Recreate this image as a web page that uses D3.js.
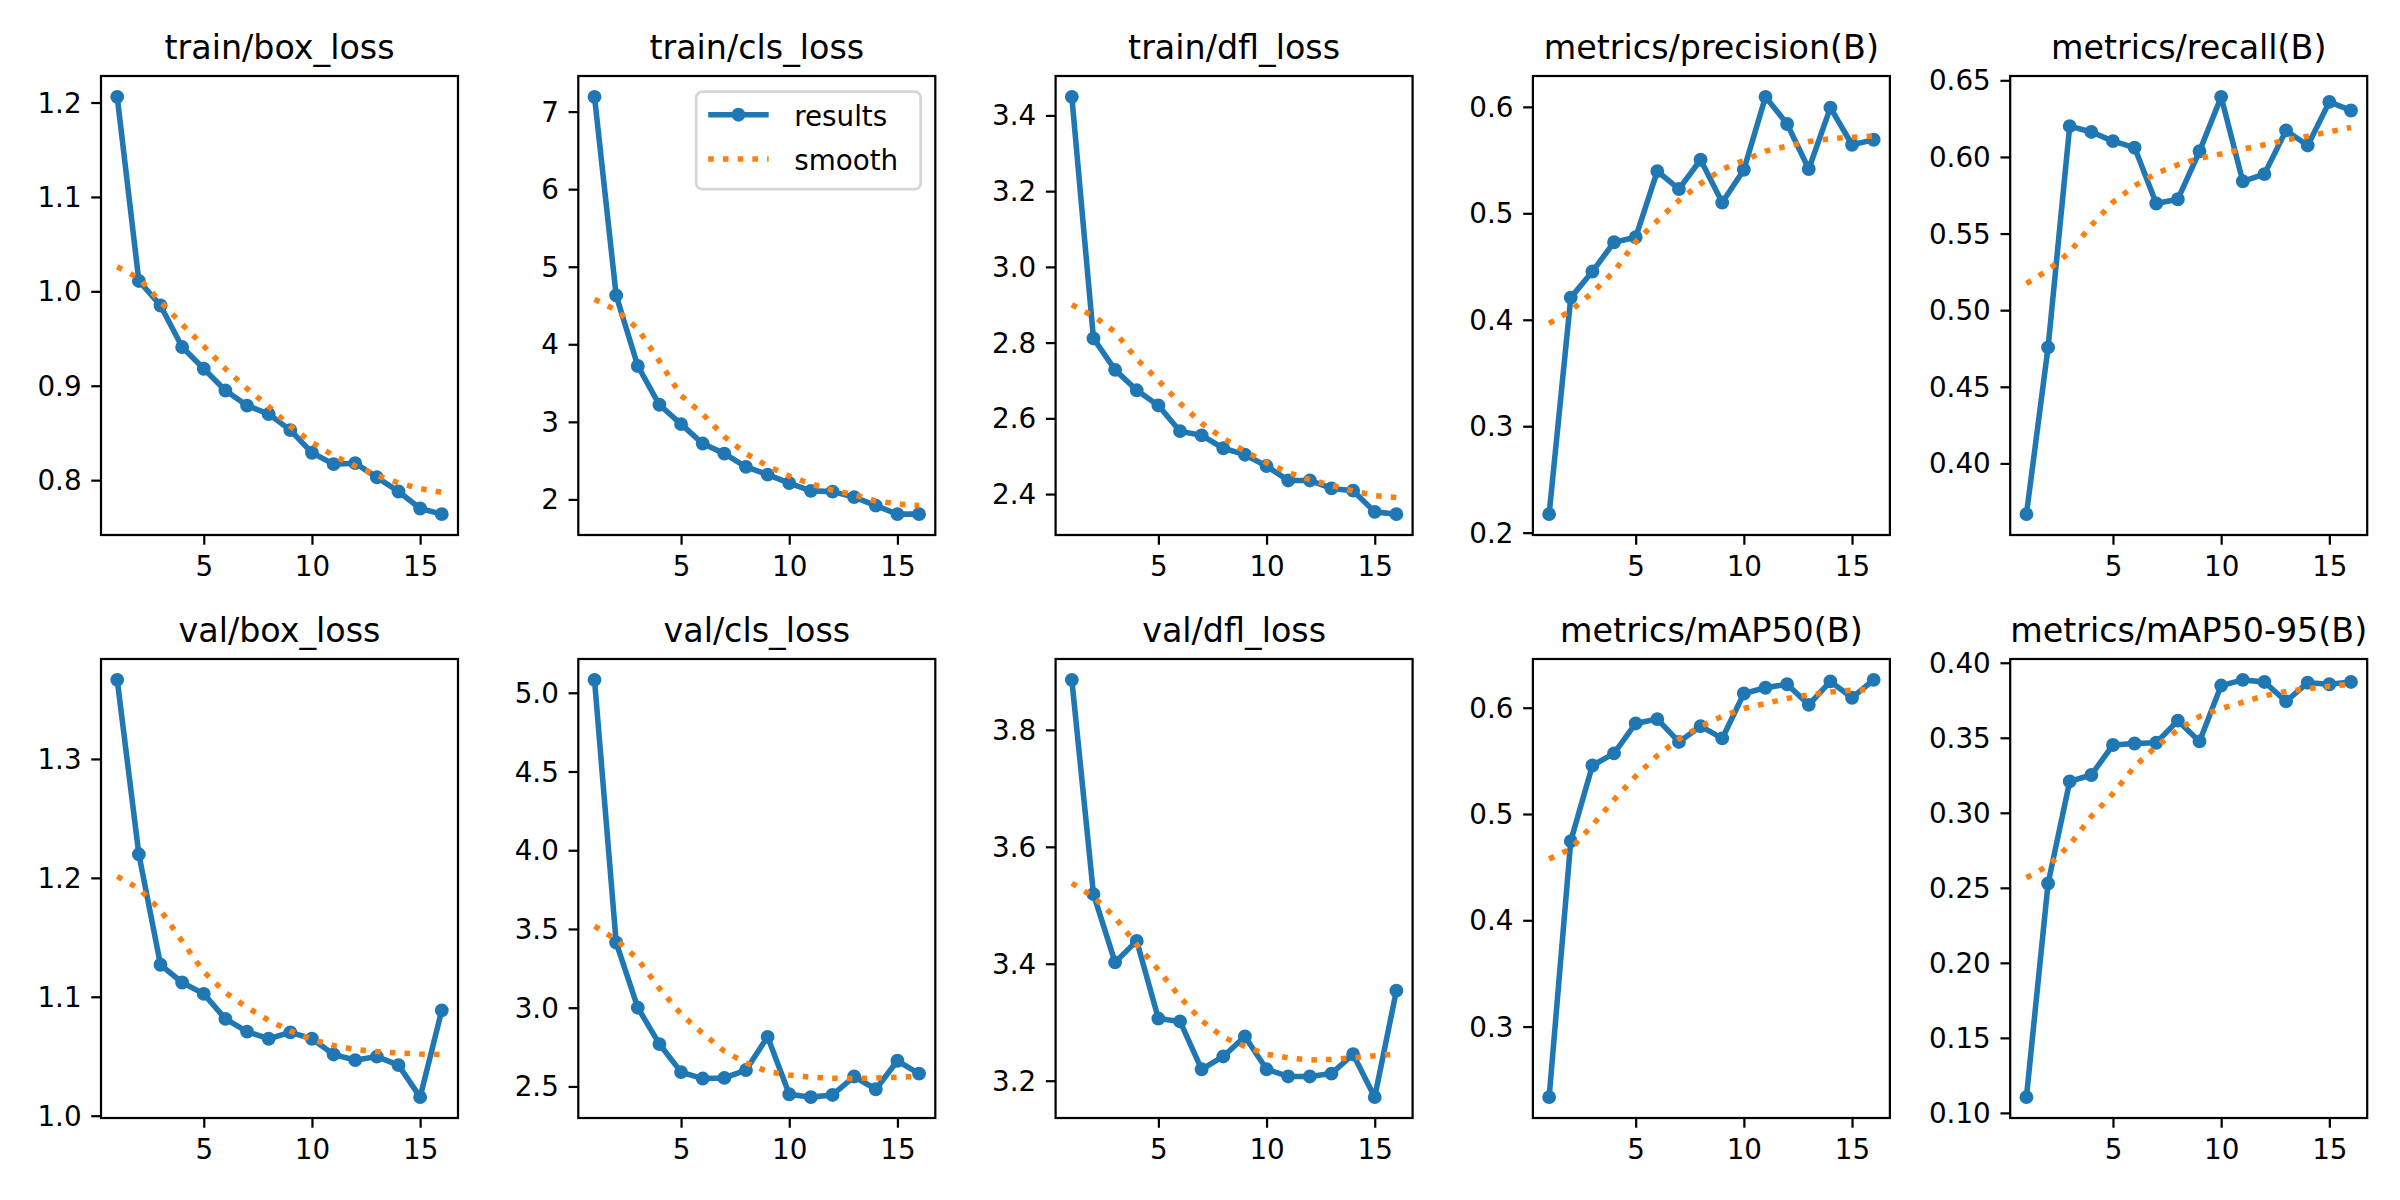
<!DOCTYPE html>
<html><head><meta charset="utf-8">
<script src="https://cdn.jsdelivr.net/npm/d3@7"></script>
<style>body{margin:0;background:#fff}svg{display:block}</style>
</head><body><svg id="c" width="2400" height="1200"></svg>
<script>
const epochs = [1,2,3,4,5,6,7,8,9,10,11,12,13,14,15,16];
const xTickLabels = ["5","10","15"];
const titles = ["train/box_loss","train/cls_loss","train/dfl_loss","metrics/precision(B)","metrics/recall(B)",
                "val/box_loss","val/cls_loss","val/dfl_loss","metrics/mAP50(B)","metrics/mAP50-95(B)"];
const seriesLabels = ["results","smooth"];

const trainBoxLoss = [1.206,1.011,0.985,0.941,0.918,0.895,0.879,0.870,0.853,0.829,0.817,0.818,0.803,0.788,0.770,0.764];
const trainBoxSmooth = [1.026,1.014,0.989,0.965,0.942,0.918,0.897,0.878,0.857,0.840,0.826,0.815,0.805,0.797,0.791,0.787];
const trainBoxTicks = ["0.8","0.9","1.0","1.1","1.2"];

const trainClsLoss = [7.19,4.63,3.72,3.22,2.97,2.72,2.59,2.42,2.32,2.21,2.11,2.10,2.03,1.92,1.81,1.81];
const trainClsSmooth = [4.58,4.44,4.20,3.78,3.34,3.10,2.81,2.59,2.43,2.30,2.20,2.12,2.06,1.98,1.94,1.92];
const trainClsTicks = ["2","3","4","5","6","7"];

const trainDflLoss = [3.449,2.811,2.728,2.674,2.634,2.566,2.555,2.521,2.504,2.474,2.436,2.436,2.415,2.409,2.353,2.347];
const trainDflSmooth = [2.900,2.870,2.828,2.757,2.700,2.640,2.587,2.547,2.513,2.483,2.457,2.438,2.423,2.408,2.396,2.391];
const trainDflTicks = ["2.4","2.6","2.8","3.0","3.2","3.4"];

const precision = [0.2174,0.4208,0.4453,0.4728,0.4775,0.5396,0.5228,0.5503,0.5101,0.5409,0.6094,0.5839,0.5416,0.5993,0.5644,0.5691];
const precisionSmooth = [0.3966,0.4084,0.4255,0.4453,0.4732,0.4930,0.5121,0.5279,0.5413,0.5497,0.5584,0.5631,0.5674,0.5701,0.5715,0.5725];
const precisionTicks = ["0.2","0.3","0.4","0.5","0.6"];

const recall = [0.3669,0.4757,0.6201,0.6163,0.6103,0.6061,0.5696,0.5724,0.6037,0.6392,0.5841,0.5888,0.6173,0.6075,0.6359,0.6303];
const recallSmooth = [0.5173,0.5262,0.5379,0.5554,0.5705,0.5811,0.5893,0.5949,0.5991,0.6019,0.6051,0.6079,0.6110,0.6135,0.6164,0.6192];
const recallTicks = ["0.40","0.45","0.50","0.55","0.60","0.65"];

const valBoxLoss = [1.3665,1.2198,1.1269,1.1120,1.1024,1.0814,1.0707,1.0647,1.0701,1.0647,1.0515,1.0467,1.0497,1.0425,1.0156,1.0886];
const valBoxSmooth = [1.2012,1.1910,1.1728,1.1467,1.1210,1.1036,1.0910,1.0802,1.0713,1.0641,1.0590,1.0557,1.0539,1.0527,1.0518,1.0515];
const valBoxTicks = ["1.0","1.1","1.2","1.3"];

const valClsLoss = [5.082,3.414,3.000,2.769,2.591,2.550,2.554,2.604,2.815,2.450,2.432,2.446,2.563,2.482,2.663,2.581];
const valClsSmooth = [3.518,3.432,3.308,3.122,2.959,2.837,2.724,2.649,2.595,2.572,2.559,2.552,2.550,2.554,2.559,2.563];
const valClsTicks = ["2.5","3.0","3.5","4.0","4.5","5.0"];

const valDflLoss = [3.8855,3.519,3.4024,3.4391,3.3063,3.3014,3.2195,3.2415,3.2757,3.2195,3.2073,3.2073,3.2122,3.2452,3.1719,3.3540];
const valDflSmooth = [3.5377,3.5145,3.4790,3.4326,3.3898,3.3429,3.3026,3.2745,3.2586,3.2452,3.2391,3.2354,3.2366,3.2391,3.2428,3.2458];
const valDflTicks = ["3.2","3.4","3.6","3.8"];

const mAP50 = [0.2336,0.4745,0.5456,0.5570,0.5852,0.5893,0.5678,0.5826,0.5711,0.6134,0.6188,0.6221,0.6027,0.6248,0.6094,0.6262];
const mAP50Smooth = [0.4577,0.4671,0.4893,0.5134,0.5356,0.5550,0.5705,0.5826,0.5919,0.5993,0.6040,0.6087,0.6121,0.6148,0.6164,0.6174];
const mAP50Ticks = ["0.3","0.4","0.5","0.6"];

const mAP5095 = [0.1105,0.2529,0.3209,0.3252,0.3452,0.3462,0.3467,0.3614,0.3476,0.3848,0.3886,0.3872,0.3743,0.3867,0.3857,0.3872];
const mAP5095Smooth = [0.2567,0.2647,0.2786,0.2976,0.3128,0.3309,0.3442,0.3552,0.3642,0.3694,0.3737,0.3780,0.3808,0.3827,0.3844,0.3856];
const mAP5095Ticks = ["0.10","0.15","0.20","0.25","0.30","0.35","0.40"];

const panels = [
  [trainBoxLoss, trainBoxSmooth, trainBoxTicks],
  [trainClsLoss, trainClsSmooth, trainClsTicks],
  [trainDflLoss, trainDflSmooth, trainDflTicks],
  [precision, precisionSmooth, precisionTicks],
  [recall, recallSmooth, recallTicks],
  [valBoxLoss, valBoxSmooth, valBoxTicks],
  [valClsLoss, valClsSmooth, valClsTicks],
  [valDflLoss, valDflSmooth, valDflTicks],
  [mAP50, mAP50Smooth, mAP50Ticks],
  [mAP5095, mAP5095Smooth, mAP5095Ticks]
].map((p, i) => ({title: titles[i], results: p[0], smooth: p[1], ticks: p[2]}));

// layout (px)
const PT = 200/72;
const C0 = "#1f77b4", C1 = "#ff7f0e";
const left0 = 101, colStep = 477.3, axW = 357, top0 = 76, rowStep = 583, axH = 459;
const tickFs = 10*PT, titleFs = 12*PT;
const tickLen = 3.5*PT, tickPad = 3.5*PT;
const font = "'DejaVu Sans', sans-serif";

const svg = d3.select("#c");
svg.append("rect").attr("width",2400).attr("height",1200).attr("fill","#fff");

panels.forEach((p, i) => {
  const col = i % 5, row = Math.floor(i / 5);
  const g = svg.append("g").attr("transform", `translate(${left0 + col*colStep},${top0 + row*rowStep})`);

  const xe = d3.extent(epochs), xr = xe[1]-xe[0];
  const x = d3.scaleLinear().domain([xe[0]-0.05*xr, xe[1]+0.05*xr]).range([0, axW]);
  const ye = d3.extent(p.results.concat(p.smooth)), yr = ye[1]-ye[0];
  const y = d3.scaleLinear().domain([ye[0]-0.05*yr, ye[1]+0.05*yr]).range([axH, 0]);

  const line = d3.line().x((d, k) => x(epochs[k])).y(d => y(d));

  g.append("path").attr("d", line(p.results)).attr("fill","none").attr("stroke",C0)
    .attr("stroke-width",2*PT).attr("stroke-linejoin","round").attr("stroke-linecap","square");
  g.selectAll("circle.m").data(p.results).join("circle").attr("class","m")
    .attr("cx",(d,k)=>x(epochs[k])).attr("cy",d=>y(d)).attr("r",2*PT)
    .attr("fill",C0).attr("stroke",C0).attr("stroke-width",1*PT);
  g.append("path").attr("d", line(p.smooth)).attr("fill","none").attr("stroke",C1)
    .attr("stroke-width",2*PT).attr("stroke-dasharray",`${2*PT} ${3.3*PT}`).attr("stroke-linecap","butt");

  // axes frame
  g.append("rect").attr("width",axW).attr("height",axH).attr("fill","none")
    .attr("stroke","#000").attr("stroke-width",0.8*PT);

  // x ticks
  const xt = xTickLabels.map(Number);
  const xa = d3.axisBottom(x).tickValues(xt).tickFormat((d,k)=>xTickLabels[k]).tickSize(tickLen).tickPadding(tickPad);
  const gx = g.append("g").attr("transform",`translate(0,${axH})`).call(xa);
  gx.select(".domain").remove();
  gx.selectAll("line").attr("stroke","#000").attr("stroke-width",0.8*PT);
  gx.selectAll("text").attr("font-family",font).attr("font-size",tickFs).attr("fill","#000")
    .attr("dy",null).attr("y", tickLen + tickPad + 0.76*tickFs);

  // y ticks
  const yt = p.ticks.map(Number);
  const ya = d3.axisLeft(y).tickValues(yt).tickFormat((d,k)=>p.ticks[k]).tickSize(tickLen).tickPadding(tickPad);
  const gy = g.append("g").call(ya);
  gy.select(".domain").remove();
  gy.selectAll("line").attr("stroke","#000").attr("stroke-width",0.8*PT);
  gy.selectAll("text").attr("font-family",font).attr("font-size",tickFs).attr("fill","#000")
    .attr("dy",null).attr("dominant-baseline","central");

  // title
  g.append("text").attr("x",axW/2).attr("y",-6*PT).attr("text-anchor","middle")
    .attr("font-family",font).attr("font-size",titleFs).attr("fill","#000").text(p.title);

  // legend on second panel
  if (i === 1) {
    const fs = tickFs;
    const lg = g.append("g");
    const W = 224.5, H = 97.5;
    const lx = axW - 14.6 - W, ly = 15.7;
    lg.append("rect").attr("x",lx).attr("y",ly).attr("width",W).attr("height",H).attr("rx",6)
      .attr("fill","#fff").attr("fill-opacity",0.8).attr("stroke","#d6d6d6").attr("stroke-width",1*PT);
    const bases = [ly + 34, ly + 78.3];
    seriesLabels.forEach((s, k) => {
      lg.append("text").attr("font-family",font).attr("font-size",fs).attr("fill","#000")
        .attr("x", lx + 98).attr("y", bases[k]).text(s);
      const hy = bases[k] - 11;
      const x1 = lx + 12, x2 = lx + 72.5;
      if (k === 0) {
        lg.append("line").attr("x1",x1).attr("x2",x2).attr("y1",hy).attr("y2",hy)
          .attr("stroke",C0).attr("stroke-width",2*PT).attr("stroke-linecap","butt");
        lg.append("circle").attr("cx",(x1+x2)/2).attr("cy",hy).attr("r",2*PT)
          .attr("fill",C0).attr("stroke",C0).attr("stroke-width",1*PT);
      } else {
        lg.append("line").attr("x1",x1).attr("x2",x2).attr("y1",hy).attr("y2",hy)
          .attr("stroke",C1).attr("stroke-width",2*PT).attr("stroke-dasharray",`${2*PT} ${3.3*PT}`);
      }
    });
  }
});
</script></body></html>
